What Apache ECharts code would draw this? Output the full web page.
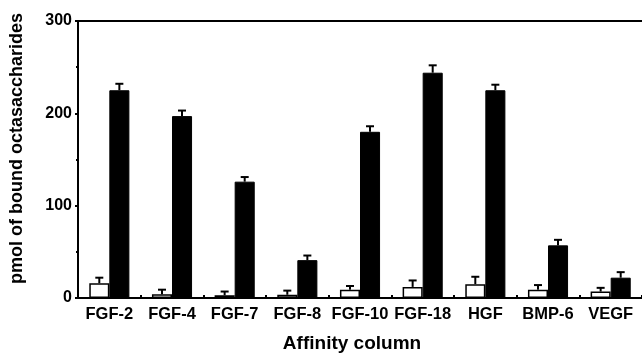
<!DOCTYPE html>
<html>
<head>
<meta charset="utf-8">
<script src="https://cdn.jsdelivr.net/npm/echarts@6/dist/echarts.min.js"></script>
<style>html,body{margin:0;padding:0;background:#fff}#c{width:642px;height:359px}</style>
</head>
<body>
<div id="c"></div>
<script>
const categories = ['FGF-2','FGF-4','FGF-7','FGF-8','FGF-10','FGF-18','HGF','BMP-6','VEGF'];
const whiteValues = [16, 4, 3, 3.5, 9, 12, 15, 9, 7];
const whiteErrTop = [22, 9, 7, 8, 13, 19, 23, 14, 11];
const blackValues = [225, 197, 126, 41, 180, 244, 225, 57, 22];
const blackErrTop = [232, 203, 131, 46, 186, 252, 231, 63, 28];
const yTicks = [0, 100, 200, 300];

const FONT = 'Liberation Sans';
const chart = echarts.init(document.getElementById('c'));

function errSeries(vals, tops, side) {
  return {
    type: 'custom',
    z: 5,
    data: vals.map((v, i) => [i, v, tops[i]]),
    renderItem: function (params, api) {
      const band = api.size([1, 0])[0];
      const off = side * band * 0.16;
      const b = api.coord([api.value(0), api.value(1)]);
      const t = api.coord([api.value(0), api.value(2)]);
      const x = b[0] + off;
      const cap = 4;
      return {
        type: 'group',
        children: [
          { type: 'line', shape: { x1: x, y1: b[1], x2: x, y2: t[1] }, style: { stroke: '#000', lineWidth: 2 } },
          { type: 'line', shape: { x1: x - cap, y1: t[1], x2: x + cap, y2: t[1] }, style: { stroke: '#000', lineWidth: 2 } }
        ]
      };
    }
  };
}

chart.setOption({
  animation: false,
  backgroundColor: '#fff',
  grid: { left: 76, right: 0, top: 21, bottom: 61 },
  xAxis: [{
    type: 'category',
    data: categories,
    position: 'bottom',
    axisLine: { lineStyle: { color: '#000', width: 2 } },
    axisTick: { show: true, inside: true, length: 3, lineStyle: { color: '#000', width: 2 } },
    axisLabel: { color: '#000', fontFamily: FONT, fontWeight: 'bold', fontSize: 16.5, margin: 8, interval: 0 },
    name: 'Affinity column',
    nameLocation: 'middle',
    nameGap: 36,
    nameTextStyle: { color: '#000', fontFamily: FONT, fontWeight: 'bold', fontSize: 19, padding: [0, 16, 0, 0] }
  }, {
    type: 'category',
    data: categories,
    position: 'top',
    axisLine: { lineStyle: { color: '#000', width: 2 } },
    axisTick: { show: false },
    axisLabel: { show: false }
  }],
  yAxis: {
    type: 'value',
    min: yTicks[0],
    max: yTicks[yTicks.length - 1],
    interval: 100,
    axisLine: { show: true, lineStyle: { color: '#000', width: 2 } },
    axisTick: { show: true, length: 3, lineStyle: { color: '#000', width: 2 } },
    minorTick: { show: true, splitNumber: 2, length: 2, lineStyle: { color: '#000', width: 2 } },
    splitLine: { show: false },
    axisLabel: { color: '#000', fontFamily: FONT, fontWeight: 'bold', fontSize: 16, margin: 6 },
    name: 'pmol of bound octasaccharides',
    nameLocation: 'middle',
    nameGap: 52,
    nameTextStyle: { color: '#000', fontFamily: FONT, fontWeight: 'bold', fontSize: 18, padding: [0, 0, 0, 22] }
  },
  series: [
    {
      type: 'bar',
      data: whiteValues,
      barWidth: '32%',
      barGap: '0%',
      itemStyle: { color: '#fff', borderColor: '#000', borderWidth: 1.5 }
    },
    {
      type: 'bar',
      data: blackValues,
      barWidth: '32%',
      barGap: '0%',
      itemStyle: { color: '#000', borderColor: '#000', borderWidth: 1 }
    },
    errSeries(whiteValues, whiteErrTop, -1),
    errSeries(blackValues, blackErrTop, 1)
  ]
});
</script>
</body>
</html>
